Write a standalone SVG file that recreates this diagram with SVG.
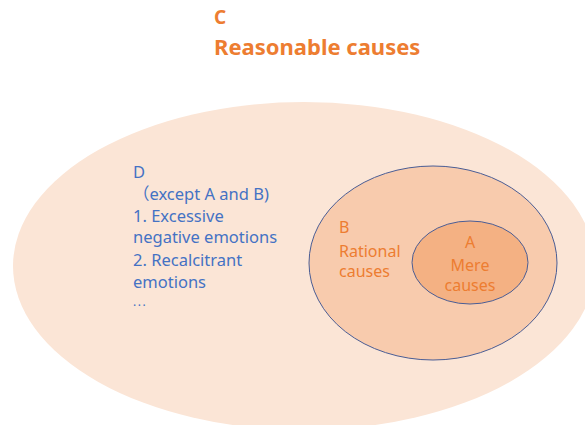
<svg xmlns="http://www.w3.org/2000/svg" width="585" height="425" viewBox="0 0 585 425">
<style>
.title{font-family:"Noto Sans","Liberation Sans",sans-serif;font-weight:bold;fill:#ED7D31}
.blue{font-family:"Noto Sans","Noto Sans CJK SC","Liberation Sans",sans-serif;font-size:16.5px;fill:#4472C4}
.orange{font-family:"Noto Sans","Liberation Sans",sans-serif;font-size:16px;fill:#ED7D31}
.ring{stroke:#4A5D95;stroke-width:1}
</style>
<rect width="585" height="425" fill="#FFFFFF"/>
<g id="C">
<ellipse cx="304" cy="266" rx="291" ry="164" fill="#FBE5D6"/>
<text class="title" x="214" y="24" font-size="19">C</text>
<text class="title" x="214" y="55" font-size="22">Reasonable causes</text>
</g>
<g id="D">
<text class="blue" x="133" y="178">D</text>
<text class="blue" x="133" y="200">（except A and B)</text>
<text class="blue" x="133" y="221.7">1. Excessive</text>
<text class="blue" x="133" y="243.4">negative emotions</text>
<text class="blue" x="133" y="266">2. Recalcitrant</text>
<text class="blue" x="133" y="287.7">emotions</text>
<text class="blue" x="133" y="305.5" style="font-size:12px;letter-spacing:1.5px">...</text>
</g>
<g id="B">
<ellipse class="ring" cx="433" cy="263" rx="124" ry="97" fill="#F8CBAD"/>
<text class="orange" x="339" y="233.3">B</text>
<text class="orange" x="339" y="256.7">Rational</text>
<text class="orange" x="339" y="276.5">causes</text>
</g>
<g id="A">
<ellipse class="ring" cx="470" cy="262.5" rx="58" ry="41.5" fill="#F4B183"/>
<text class="orange" x="470" y="248.3" text-anchor="middle">A</text>
<text class="orange" x="470" y="270.7" text-anchor="middle">Mere</text>
<text class="orange" x="470" y="291" text-anchor="middle">causes</text>
</g>
<g id="connectors"/>
</svg>
